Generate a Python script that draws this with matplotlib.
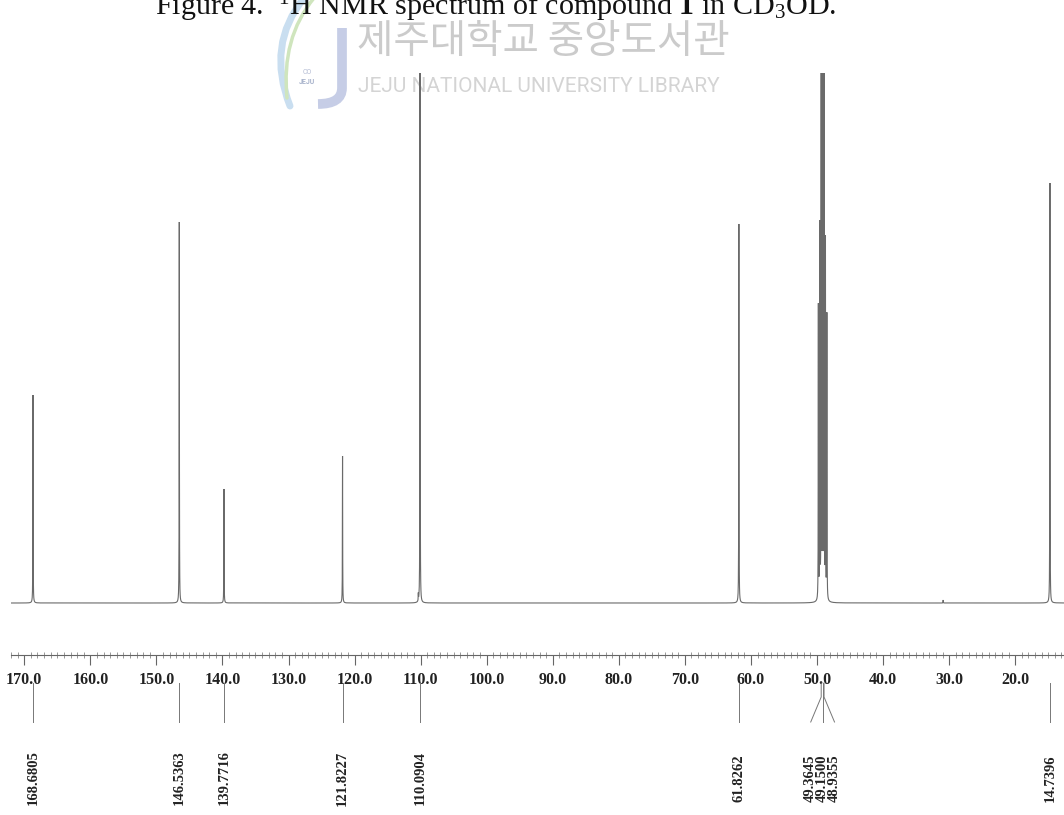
import numpy as np
import matplotlib
matplotlib.use("Agg")
import matplotlib.pyplot as plt
from matplotlib.ticker import MultipleLocator, FormatStrFormatter
from matplotlib.path import Path
from matplotlib.patches import PathPatch

plt.rcParams['mathtext.fontset'] = 'custom'
plt.rcParams['mathtext.rm'] = 'Liberation Serif'
plt.rcParams['mathtext.it'] = 'Liberation Serif:italic'
plt.rcParams['mathtext.bf'] = 'Liberation Serif:bold'

# Labelled 13C resonances (ppm) and peak heights (arbitrary units)
peak_ppm = [168.6805, 146.5363, 139.7716, 121.8227, 110.0904,
            61.8262, 49.3645, 49.1500, 48.9355, 14.7396]
peak_height = [2.08, 3.81, 1.14, 1.47, 6.0,
               3.79, 6.5, 7.5, 6.5, 4.20]
peak_labels = ["168.6805", "146.5363", "139.7716", "121.8227", "110.0904",
               "61.8262", "49.3645", "49.1500", "48.9355", "14.7396"]

# Unlabelled lines: outer members of the CD3OD septet and two weak signals
extra_ppm = [49.7935, 49.5790, 48.7210, 48.5065, 110.35, 30.90]
extra_height = [2.94, 3.72, 3.57, 2.85, 0.07, 0.03]

title_text = r"Figure 4.  $^{1}$H NMR spectrum of compound $\mathbf{1}$ in CD$_{3}$OD."
wm_korean = "제주대학교 중앙도서관"
wm_english = "JEJU NATIONAL UNIVERSITY LIBRARY"

W, H = 1064, 815
fig = plt.figure(figsize=(W / 100, H / 100), dpi=100)

# chemical-shift window shown across the page (x pixel 11 .. 1064)
ppm_per_px = 1 / 6.606
ppm_left = 168.6805 + (33 - 11) * ppm_per_px
ppm_right = 168.6805 - (W - 33) * ppm_per_px


def px_box(x0, y_top, x1, y_bot):
    return [x0 / W, 1 - y_bot / H, (x1 - x0) / W, (y_bot - y_top) / H]


# ---- watermark layer (page pixel coordinates) ----
ax_wm = fig.add_axes([0, 0, 1, 1], zorder=0)
ax_wm.set_xlim(0, W)
ax_wm.set_ylim(H, 0)
ax_wm.axis("off")

swoosh_blue = Path([(304, -2), (266, 45), (290, 106)],
                   [Path.MOVETO, Path.CURVE3, Path.CURVE3])
swoosh_green = Path([(314, -2), (281, 38), (287, 98)],
                    [Path.MOVETO, Path.CURVE3, Path.CURVE3])
j_bar = Path([(342, 28), (342, 88), (342, 104), (318, 104)],
             [Path.MOVETO, Path.LINETO, Path.CURVE3, Path.CURVE3])
ax_wm.add_patch(PathPatch(swoosh_blue, fill=False, lw=5, ec="#c9def0", capstyle="round"))
ax_wm.add_patch(PathPatch(swoosh_green, fill=False, lw=2.5, ec="#cfe5bd", capstyle="round"))
ax_wm.add_patch(PathPatch(j_bar, fill=False, lw=7, ec="#c6cde6", capstyle="butt"))
ax_wm.text(307, 72, "CO", fontsize=5, color="#b5bdd4", ha="center", va="center", family="Roboto")
ax_wm.text(307, 82, "JEJU", fontsize=5, color="#a9b4cc", ha="center", va="center",
           family="Roboto", weight="bold")

ax_wm.text(357, 42, wm_korean, fontsize=28.5, color="#cbcbcb", ha="left", va="center",
           family=["Noto Sans CJK KR", "DejaVu Sans"])
ax_wm.text(358, 86, wm_english, fontsize=15, color="#d4d4d4", ha="left", va="center",
           family="Roboto")

# ---- caption ----
fig.text(155 / W, 1 - 15 / H, title_text, fontsize=21.6, family="Liberation Serif",
         ha="left", va="baseline", color="#111111")

# ---- spectrum ----
ax = fig.add_axes(px_box(11, 73, W, 615), zorder=2)
ax.set_facecolor("none")

all_ppm = np.array(peak_ppm + extra_ppm)
all_h = np.array(peak_height + extra_height)
hwhm = 0.02
x = np.union1d(np.linspace(ppm_right, ppm_left, 60000), all_ppm)
y = np.zeros_like(x)
for p, h in zip(all_ppm, all_h):
    y += h * hwhm ** 2 / ((x - p) ** 2 + hwhm ** 2)

ax.plot(x, y, color="#6a6a6a", lw=0.8, solid_joinstyle="miter")
ax.set_xlim(ppm_left, ppm_right)
ax.set_ylim(-0.12, 5.30)
ax.axis("off")

# ---- ppm scale ----
ax_s = fig.add_axes(px_box(11, 654, W, 655), zorder=2)
ax_s.set_facecolor("none")
ax_s.set_xlim(ppm_left, ppm_right)
ax_s.set_ylim(0, 1)
for side in ("top", "left", "right"):
    ax_s.spines[side].set_visible(False)
ax_s.spines["bottom"].set_color("#666666")
ax_s.spines["bottom"].set_linewidth(0.8)
ax_s.yaxis.set_visible(False)
ax_s.xaxis.set_major_locator(MultipleLocator(10))
ax_s.xaxis.set_minor_locator(MultipleLocator(1))
ax_s.xaxis.set_major_formatter(FormatStrFormatter("%.1f"))
ax_s.tick_params(axis="x", which="major", direction="out", length=7, width=0.8,
                 color="#666666", pad=5, labelsize=11.5)
ax_s.tick_params(axis="x", which="minor", direction="inout", length=5, width=0.6,
                 color="#888888")
for lab in ax_s.get_xticklabels():
    lab.set_family("Liberation Serif")
    lab.set_weight("bold")
    lab.set_color("#222222")

# ---- peak labels ----
ax_a = fig.add_axes(px_box(11, 640, W, H), zorder=2)
ax_a.set_facecolor("none")
ax_a.set_xlim(ppm_left, ppm_right)
ax_a.set_ylim(H, 640)
ax_a.axis("off")

# spread labels of closely spaced lines so the text does not overlap
label_ppm = list(peak_ppm)
spacing = 1.8
i = 0
while i < len(peak_ppm):
    j = i
    while j + 1 < len(peak_ppm) and abs(peak_ppm[j] - peak_ppm[j + 1]) < 1.0:
        j += 1
    n = j - i + 1
    if n > 1:
        centre = peak_ppm[i + n // 2]
        for k in range(n):
            label_ppm[i + k] = centre + (n // 2 - k) * spacing
    i = j + 1

for p, lp, txt in zip(peak_ppm, label_ppm, peak_labels):
    if abs(lp - p) < 1e-9:
        ax_a.plot([p, p], [683, 722], color="#777777", lw=0.7)
    else:
        ax_a.plot([p, p, lp], [683, 697, 722], color="#777777", lw=0.7)
    ax_a.text(lp, 778, txt, rotation=90, ha="center", va="center",
              fontsize=10.5, family="Liberation Serif", weight="bold", color="#222222")

fig.savefig("out.png", dpi=100, facecolor="white")
